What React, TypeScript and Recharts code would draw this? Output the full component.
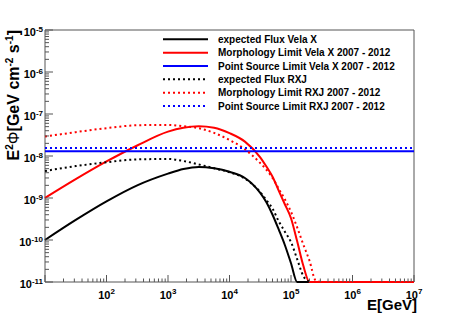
import React from "react";
import { LineChart, Line, XAxis, YAxis, ReferenceArea } from "recharts";

// energies in GeV
const ENERGY = [
  10, 31.6, 100, 316, 1000, 1780, 3160, 5620, 1e4, 1.78e4, 3.16e4, 3.98e4,
  5.01e4, 6.31e4, 7.94e4, 1e5, 1.26e5, 1.58e5, 2e5, 2.51e5, 3.16e5, 1e6, 1e7,
];

// E^2 Phi [GeV cm^-2 s^-1]; values under the frame are shown at 1e-11
const VELA_EXPECTED = [
  1.0e-10, 3.0e-10, 8.3e-10, 2.0e-9, 3.8e-9, 4.9e-9, 5.5e-9, 5.1e-9, 4.2e-9,
  3.0e-9, 1.32e-9, 7.9e-10, 4.0e-10, 1.78e-10, 7.6e-11, 2.8e-11, 1e-11, 1e-11,
  1e-11, 1e-11, 1e-11, 1e-11, 1e-11,
];
const VELA_MORPH = [
  1.0e-9, 2.8e-9, 7.4e-9, 1.78e-8, 3.8e-8, 4.7e-8, 5.1e-8, 4.7e-8, 3.5e-8,
  2.2e-8, 9.3e-9, 5.6e-9, 3.2e-9, 1.5e-9, 7.1e-10, 3.3e-10, 9.3e-11, 2.5e-11,
  1e-11, 1e-11, 1e-11, 1e-11, 1e-11,
];
const RXJ_EXPECTED = [
  4.4e-9, 5.75e-9, 7.1e-9, 8.3e-9, 8.5e-9, 7.6e-9, 6.3e-9, 5.1e-9, 4.1e-9,
  2.9e-9, 1.38e-9, 8.9e-10, 5.6e-10, 2.8e-10, 1.58e-10, 8.9e-11, 3.5e-11,
  1.4e-11, 1e-11, null, null, null, null,
];
const RXJ_MORPH = [
  2.9e-8, 3.7e-8, 4.6e-8, 5.4e-8, 5.5e-8, 5.1e-8, 4.6e-8, 3.55e-8, 2.4e-8,
  1.45e-8, 6.8e-9, 4.7e-9, 3.0e-9, 1.66e-9, 9.3e-10, 4.7e-10, 2.0e-10, 7.9e-11,
  3.2e-11, 1.1e-11, 1e-11, null, null,
];
const VELA_POINT_LIMIT = 1.3e-8;
const RXJ_POINT_LIMIT = 1.55e-8;

const X_DECADES = [1e1, 1e2, 1e3, 1e4, 1e5, 1e6, 1e7];
const Y_DECADES = [1e-11, 1e-10, 1e-9, 1e-8, 1e-7, 1e-6, 1e-5];
const X_LABELED = [2, 3, 4, 5, 6, 7];
const MINOR_STEPS = [2, 3, 4, 5, 6, 7, 8, 9];

const SERIES = [
  { key: "velaExpected", name: "expected Flux Vela X", color: "#000000", dotted: false },
  { key: "velaMorph", name: "Morphology Limit Vela X 2007 - 2012", color: "#ff0000", dotted: false },
  { key: "velaPoint", name: "Point Source Limit Vela X 2007 - 2012", color: "#0000ff", dotted: false },
  { key: "rxjExpected", name: "expected Flux RXJ", color: "#000000", dotted: true },
  { key: "rxjMorph", name: "Morphology Limit RXJ 2007 - 2012", color: "#ff0000", dotted: true },
  { key: "rxjPoint", name: "Point Source Limit RXJ 2007 - 2012", color: "#0000ff", dotted: true },
];

const rows = ENERGY.map((e, i) => ({
  e,
  velaExpected: VELA_EXPECTED[i],
  velaMorph: VELA_MORPH[i],
  velaPoint: VELA_POINT_LIMIT,
  rxjExpected: RXJ_EXPECTED[i],
  rxjMorph: RXJ_MORPH[i],
  rxjPoint: RXJ_POINT_LIMIT,
}));

const withMinors = (decades: number[]) =>
  decades.flatMap((d, i) =>
    i === decades.length - 1 ? [d] : [d, ...MINOR_STEPS.map((k) => k * d)]
  );
const X_TICKS = withMinors(X_DECADES);
const Y_TICKS = withMinors(Y_DECADES);

const FONT = "'Liberation Sans', Arial, Helvetica, sans-serif";
const AXIS = "#555555";
const W = 463;
const H = 314;

const decade = (v: number) => {
  const e = Math.log10(v);
  return Math.abs(e - Math.round(e)) < 1e-6 ? Math.round(e) : null;
};

function XTick({ x, y, payload }: any) {
  const e = decade(payload.value);
  return (
    <g>
      <line x1={x} x2={x} y1={y} y2={y - (e !== null ? 7 : 3.5)} stroke={AXIS} />
      {e !== null && X_LABELED.includes(e) && (
        <text x={x} y={y + 16.5} textAnchor="middle" fontFamily={FONT} fontWeight="bold" fontSize={11} fill="#000">
          10<tspan dy={-5} fontSize={8}>{e}</tspan>
        </text>
      )}
    </g>
  );
}

function YTick({ x, y, payload }: any) {
  const e = decade(payload.value);
  return (
    <g>
      <line x1={x} x2={x + (e !== null ? 8 : 4)} y1={y} y2={y} stroke={AXIS} />
      {e !== null && (
        <text x={x - 2} y={y + 6} textAnchor="end" fontFamily={FONT} fontWeight="bold" fontSize={11} fill="#000">
          10<tspan dy={-4.5} fontSize={8}>{e}</tspan>
        </text>
      )}
    </g>
  );
}

function LegendBox() {
  return (
    <svg width={W} height={H} style={{ position: "absolute", left: 0, top: 0, pointerEvents: "none" }}>
      {SERIES.map((s, i) => {
        const cy = 39.3 + i * 13.35;
        return (
          <g key={s.key}>
            <line x1={163} x2={208} y1={cy} y2={cy} stroke={s.color} strokeWidth={2}
              strokeDasharray={s.dotted ? "2 3" : undefined} />
            <text x={218} y={cy + 3.6} fontFamily={FONT} fontWeight="bold" fontSize={10} fill="#000">
              {s.name}
            </text>
          </g>
        );
      })}
      <text transform="rotate(-90)" x={-30} y={18.5} textAnchor="end" fontFamily={FONT} fontWeight="bold" fontSize={16} fill="#000">
        E<tspan dy={-6} fontSize={10}>2</tspan>
        <tspan dy={6} fontWeight="normal">Φ</tspan>[GeV cm<tspan dy={-6} fontSize={10}>-2</tspan>
        <tspan dy={6}> s</tspan><tspan dy={-6} fontSize={10}>-1</tspan><tspan dy={6}>]</tspan>
      </text>
      <text x={417} y={310} textAnchor="end" fontFamily={FONT} fontWeight="bold" fontSize={15} fill="#000">
        E[GeV]
      </text>
    </svg>
  );
}

export default function App() {
  return (
    <div style={{ position: "absolute", left: 0, top: 0, width: W, height: H, background: "#fff" }}>
      <LineChart width={W} height={H} data={rows} margin={{ top: 30, right: 49, bottom: 0, left: 0 }}>
        <ReferenceArea x1={10} x2={1e7} y1={1e-11} y2={1e-5} fill="#ffffff" fillOpacity={0}
          stroke={AXIS} strokeWidth={1} ifOverflow="visible" />
        <XAxis dataKey="e" type="number" scale="log" domain={[10, 1e7]} ticks={X_TICKS} interval={0}
          height={32} tickSize={0} tickMargin={0} axisLine={false} tickLine={false}
          tick={(p: any) => <XTick {...p} />} />
        <YAxis type="number" scale="log" domain={[1e-11, 1e-5]} ticks={Y_TICKS} interval={0}
          width={45} tickSize={0} tickMargin={0} axisLine={false} tickLine={false}
          tick={(p: any) => <YTick {...p} />} />
        {SERIES.map((s) => (
          <Line key={s.key} dataKey={s.key} type="monotone" stroke={s.color} strokeWidth={2}
            strokeDasharray={s.dotted ? "2 3" : undefined} dot={false} activeDot={false}
            isAnimationActive={false} />
        ))}
      </LineChart>
      <LegendBox />
    </div>
  );
}
